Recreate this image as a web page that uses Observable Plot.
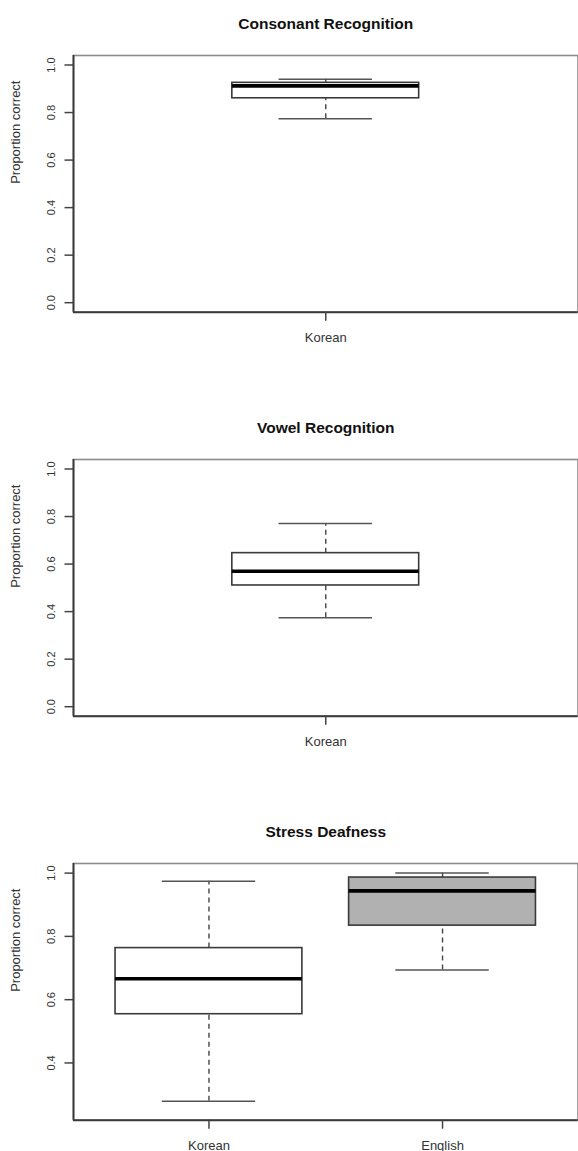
<!DOCTYPE html>
<html><head><meta charset="utf-8">
<script src="https://cdn.jsdelivr.net/npm/d3@7"></script>
<script src="https://cdn.jsdelivr.net/npm/@observablehq/plot@0.6"></script>
<style>
body{margin:0;background:#fff;width:578px;height:1151px;position:relative;overflow:hidden;font-family:"Liberation Sans",Arial,sans-serif}
.panel{position:absolute;left:0}
</style></head><body>
<div id="p1" class="panel" style="top:0px"></div>
<div id="p2" class="panel" style="top:404.3px"></div>
<div id="p3" class="panel" style="top:807.7px"></div>
<script>
// ---- Data ----
const titles = ["Consonant Recognition", "Vowel Recognition", "Stress Deafness"];
const yLabel = "Proportion correct";

const consonantGroups = ["Korean"];
const consonantLow    = [0.774];
const consonantQ1     = [0.860];
const consonantMedian = [0.912];
const consonantQ3     = [0.925];
const consonantHigh   = [0.940];

const vowelGroups = ["Korean"];
const vowelLow    = [0.374];
const vowelQ1     = [0.510];
const vowelMedian = [0.570];
const vowelQ3     = [0.646];
const vowelHigh   = [0.771];

const stressGroups = ["Korean", "English"];
const stressLow    = [0.279, 0.694];
const stressQ1     = [0.554, 0.834];
const stressMedian = [0.666, 0.944];
const stressQ3     = [0.763, 0.986];
const stressHigh   = [0.974, 1.000];

const fullTicks   = [0, 0.2, 0.4, 0.6, 0.8, 1.0];
const stressTicks = [0.4, 0.6, 0.8, 1.0];

// ---- Styles ----
const groupFill = {Korean: "#ffffff", English: "#b1b1b1"};
const FONT = "'Liberation Sans', Arial, Helvetica, sans-serif";

function panel({title, groups, lo, q1, med, q3, hi, yDomain, yTicks, xDomain, half}) {
  const data = groups.map((g, k) => ({g, i: k + 1, lo: lo[k], q1: q1[k], med: med[k], q3: q3[k], hi: hi[k]}));
  const cap = half / 2;
  return Plot.plot({
    width: 578, height: 343,
    marginTop: 55, marginBottom: 31.3, marginLeft: 73, marginRight: 0.5,
    style: {fontFamily: FONT, background: "#fff", color: "#333", overflow: "visible"},
    x: {type: "linear", domain: xDomain},
    y: {type: "linear", domain: yDomain},
    color: {type: "identity"},
    marks: [
      Plot.frame({stroke: "#8c8c8c", strokeWidth: 1.6}),
      Plot.ruleX([xDomain[0]], {stroke: "#3a3a3a", strokeWidth: 1.9}),
      Plot.ruleY([yDomain[0]], {stroke: "#3a3a3a", strokeWidth: 1.9}),
      // whiskers (dashed)
      Plot.ruleX(data, {x: "i", y1: "q3", y2: "hi", stroke: "#444", strokeWidth: 1.4, strokeDasharray: "5,4"}),
      Plot.ruleX(data, {x: "i", y1: "lo", y2: "q1", stroke: "#444", strokeWidth: 1.4, strokeDasharray: "5,4"}),
      // staples
      Plot.ruleY(data, {y: "hi", x1: d => d.i - cap, x2: d => d.i + cap, stroke: "#555", strokeWidth: 1.5}),
      Plot.ruleY(data, {y: "lo", x1: d => d.i - cap, x2: d => d.i + cap, stroke: "#555", strokeWidth: 1.5}),
      // boxes
      Plot.rect(data, {x1: d => d.i - half, x2: d => d.i + half, y1: "q1", y2: "q3",
        fill: d => groupFill[d.g], stroke: "#3a3a3a", strokeWidth: 1.6}),
      // medians
      Plot.ruleY(data, {y: "med", x1: d => d.i - half, x2: d => d.i + half, stroke: "#000", strokeWidth: 3.6}),
      // axes
      Plot.axisY({ticks: yTicks, tickFormat: d3.format(".1f"), tickSize: 8.5, tickPadding: 10.5,
        tickRotate: -90, fontSize: 11, stroke: "#444", strokeWidth: 1.5, label: null}),
      Plot.axisX({ticks: groups.map((g, k) => k + 1), tickFormat: i => groups[i - 1],
        tickSize: 9, tickPadding: 12, fontSize: 13, stroke: "#444", strokeWidth: 1.5, label: null}),
      Plot.text([yLabel], {text: d => d, frameAnchor: "left", lineAnchor: "middle", dx: -58, rotate: -90, fontSize: 13, fill: "#333"}),
      Plot.text([title], {text: d => d, frameAnchor: "top", lineAnchor: "middle", dy: -31, fontSize: 15.5, fontWeight: "bold", fill: "#111"})
    ]
  });
}

document.getElementById("p1").append(panel({
  title: titles[0], groups: consonantGroups, lo: consonantLow, q1: consonantQ1, med: consonantMedian,
  q3: consonantQ3, hi: consonantHigh, yDomain: [-0.04, 1.04], yTicks: fullTicks, xDomain: [0.46, 1.54], half: 0.2
}));
document.getElementById("p2").append(panel({
  title: titles[1], groups: vowelGroups, lo: vowelLow, q1: vowelQ1, med: vowelMedian,
  q3: vowelQ3, hi: vowelHigh, yDomain: [-0.04, 1.04], yTicks: fullTicks, xDomain: [0.46, 1.54], half: 0.2
}));
document.getElementById("p3").append(panel({
  title: titles[2], groups: stressGroups, lo: stressLow, q1: stressQ1, med: stressMedian,
  q3: stressQ3, hi: stressHigh, yDomain: [0.219, 1.0304], yTicks: stressTicks, xDomain: [0.42, 2.58], half: 0.4
}));
</script>
</body></html>
